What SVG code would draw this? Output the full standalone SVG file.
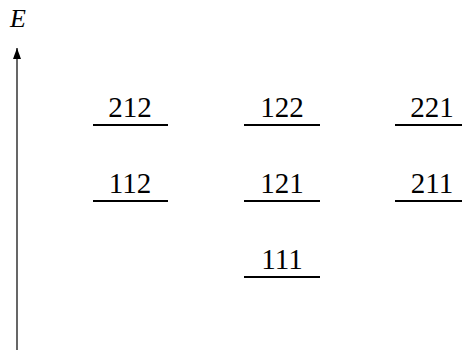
<svg xmlns="http://www.w3.org/2000/svg" width="462" height="350" viewBox="0 0 462 350">
<defs>
<style>
.lvl{stroke:#000;stroke-width:2.2;}
.lbl{font-size:29px;fill:#000;text-anchor:middle;}
.axl{font-size:26px;font-style:italic;fill:#000;}
</style>
<marker id="ah" markerWidth="11" markerHeight="8" refX="11" refY="4" orient="auto" markerUnits="userSpaceOnUse">
<path d="M0,0 L11,4 L0,8 Z" fill="#000"/>
</marker>
</defs>
<g id="connectors">
<line x1="17" y1="350" x2="17" y2="48" stroke="#000" stroke-width="1.2" marker-end="url(#ah)"/>
</g>
<g font-family="Liberation Serif, DejaVu Serif, serif">
<g id="axis-label"><text class="axl" x="10" y="27">E</text></g>
<g id="n212"><text class="lbl" x="130" y="117">212</text><line class="lvl" x1="93" y1="125" x2="168" y2="125"/></g>
<g id="n122"><text class="lbl" x="282" y="117">122</text><line class="lvl" x1="244" y1="125" x2="320" y2="125"/></g>
<g id="n221"><text class="lbl" x="432" y="117">221</text><line class="lvl" x1="395" y1="125" x2="470" y2="125"/></g>
<g id="n112"><text class="lbl" x="130" y="193">112</text><line class="lvl" x1="93" y1="201" x2="168" y2="201"/></g>
<g id="n121"><text class="lbl" x="282" y="193">121</text><line class="lvl" x1="244" y1="201" x2="320" y2="201"/></g>
<g id="n211"><text class="lbl" x="432" y="193">211</text><line class="lvl" x1="395" y1="201" x2="470" y2="201"/></g>
<g id="n111"><text class="lbl" x="282" y="269">111</text><line class="lvl" x1="244" y1="277" x2="320" y2="277"/></g>
</g>
</svg>
